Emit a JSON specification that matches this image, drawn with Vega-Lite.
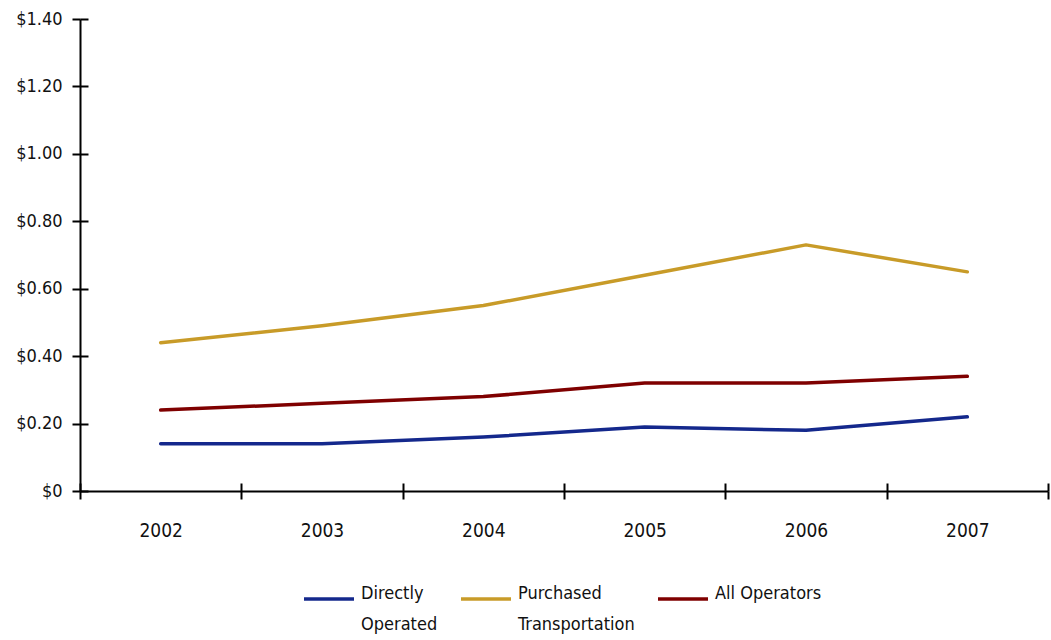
{
  "$schema": "https://vega.github.io/schema/vega-lite/v6.json",
  "width": 968,
  "height": 472,
  "autosize": {"type": "none"},
  "padding": {"left": 80, "top": 19, "right": 3, "bottom": 149},
  "background": "white",
  "config": {
    "view": {"stroke": null},
    "font": "DejaVu Sans Condensed, Liberation Sans Narrow, Liberation Sans, sans-serif",
    "axis": {"grid": false, "domainColor": "#000000", "tickColor": "#000000", "labelColor": "#111111", "tickWidth": 2, "domainWidth": 2},
    "style": {"guide-label": {"lineHeight": 31}}
  },
  "data": {
    "values": [
      {"year": 2002, "series": "Directly Operated", "cost": 0.14},
      {"year": 2003, "series": "Directly Operated", "cost": 0.14},
      {"year": 2004, "series": "Directly Operated", "cost": 0.16},
      {"year": 2005, "series": "Directly Operated", "cost": 0.19},
      {"year": 2006, "series": "Directly Operated", "cost": 0.18},
      {"year": 2007, "series": "Directly Operated", "cost": 0.22},
      {"year": 2002, "series": "Purchased Transportation", "cost": 0.44},
      {"year": 2003, "series": "Purchased Transportation", "cost": 0.49},
      {"year": 2004, "series": "Purchased Transportation", "cost": 0.55},
      {"year": 2005, "series": "Purchased Transportation", "cost": 0.64},
      {"year": 2006, "series": "Purchased Transportation", "cost": 0.73},
      {"year": 2007, "series": "Purchased Transportation", "cost": 0.65},
      {"year": 2002, "series": "All Operators", "cost": 0.24},
      {"year": 2003, "series": "All Operators", "cost": 0.26},
      {"year": 2004, "series": "All Operators", "cost": 0.28},
      {"year": 2005, "series": "All Operators", "cost": 0.32},
      {"year": 2006, "series": "All Operators", "cost": 0.32},
      {"year": 2007, "series": "All Operators", "cost": 0.34}
    ]
  },
  "layer": [
    {
      "mark": {"type": "line", "strokeCap": "round", "strokeJoin": "round"},
      "encoding": {
        "x": {
          "field": "year",
          "type": "quantitative",
          "scale": {"domain": [2001.5, 2007.5], "nice": false, "zero": false},
          "axis": {
            "title": null,
            "orient": "bottom",
            "values": [2001.5, 2002.5, 2003.5, 2004.5, 2005.5, 2006.5, 2007.5],
            "labelExpr": "datum.value < 2007 ? toString(datum.value + 0.5) : ''",
            "labelOffset": 80.67,
            "labelFlush": false,
            "labelOverlap": false,
            "labelFontSize": 19,
            "labelPadding": 22,
            "tickSize": 8
          }
        },
        "y": {
          "field": "cost",
          "type": "quantitative",
          "scale": {"domain": [0, 1.4], "nice": false},
          "axis": {
            "title": null,
            "orient": "left",
            "values": [0, 0.2, 0.4, 0.6, 0.8, 1.0, 1.2, 1.4],
            "labelExpr": "datum.value == 0 ? '$0' : '$' + format(datum.value, '.2f')",
            "labelFontSize": 18,
            "labelPadding": 10,
            "tickSize": 8
          }
        },
        "color": {
          "field": "series",
          "type": "nominal",
          "scale": {
            "domain": ["Directly Operated", "Purchased Transportation", "All Operators"],
            "range": ["#14288c", "#c89b28", "#7f0000"]
          },
          "legend": {
            "title": null,
            "orient": "none",
            "legendX": 222,
            "legendY": 553,
            "direction": "horizontal",
            "symbolType": "stroke",
            "symbolSize": 2500,
            "labelFontSize": 18,
            "labelColor": "#111111",
            "labelOffset": 5,
            "labelBaseline": "alphabetic",
            "labelLimit": 200,
            "columnPadding": 16,
            "labelExpr": "datum.label == 'Directly Operated' ? ['Directly', 'Operated'] : datum.label == 'Purchased Transportation' ? ['Purchased', 'Transportation'] : ['All Operators', '']"
          }
        },
        "strokeWidth": {
          "field": "series",
          "type": "nominal",
          "scale": {
            "domain": ["Directly Operated", "Purchased Transportation", "All Operators"],
            "range": [3.5, 3.5, 6]
          },
          "legend": {
            "title": null,
            "orient": "none",
            "legendX": 222,
            "legendY": 553,
            "direction": "horizontal",
            "symbolType": "stroke",
            "symbolSize": 2500,
            "labelFontSize": 18,
            "labelColor": "#111111",
            "labelOffset": 5,
            "labelBaseline": "alphabetic",
            "labelLimit": 200,
            "columnPadding": 16,
            "labelExpr": "datum.label == 'Directly Operated' ? ['Directly', 'Operated'] : datum.label == 'Purchased Transportation' ? ['Purchased', 'Transportation'] : ['All Operators', '']"
          }
        }
      }
    },
    {
      "mark": {"type": "line", "opacity": 0},
      "encoding": {
        "x": {
          "field": "year",
          "type": "quantitative",
          "axis": {
            "title": null,
            "orient": "bottom",
            "values": [2001.5, 2002.5, 2003.5, 2004.5, 2005.5, 2006.5, 2007.5],
            "labels": false,
            "domain": false,
            "tickSize": -8
          }
        },
        "y": {
          "field": "cost",
          "type": "quantitative",
          "axis": {
            "title": null,
            "orient": "left",
            "values": [0, 0.2, 0.4, 0.6, 0.8, 1.0, 1.2, 1.4],
            "labels": false,
            "domain": false,
            "tickSize": -8
          }
        },
        "detail": {"field": "series"}
      }
    }
  ],
  "resolve": {"axis": {"x": "independent", "y": "independent"}}
}
